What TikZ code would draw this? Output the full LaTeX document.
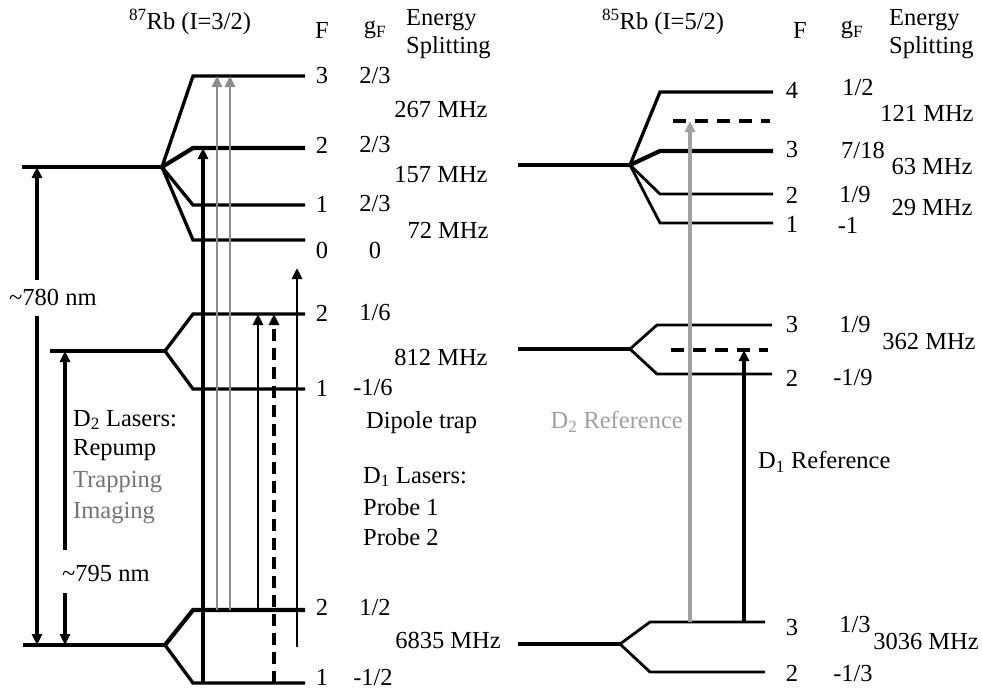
\documentclass[tikz,border=0pt]{standalone}
\usepackage{fontspec}
\setmainfont{Liberation Serif}
\usetikzlibrary{arrows.meta}
\definecolor{lasgray}{RGB}{140,140,140}
\definecolor{txtgray}{RGB}{115,115,115}
\definecolor{refgray}{RGB}{160,160,160}
\begin{document}
\begin{tikzpicture}[x=1pt,y=-1pt,
  every node/.style={font=\fontsize{24.5}{27}\selectfont, inner sep=0pt},
  lev/.style={line width=3.3pt, line join=miter},
  levthick/.style={line width=4.2pt},
  levthin/.style={line width=2.8pt},
  tip/.style={-{Triangle[length=11pt,width=10pt]}},
  blk/.style={tip, line width=3.6pt},
  blkthin/.style={tip, line width=2.8pt},
  gry/.style={tip, line width=2.8pt, draw=lasgray},
  dsh/.style={tip, line width=3.8pt, dash pattern=on 12pt off 7pt},
  refdash/.style={line width=3.6pt, dash pattern=on 13pt off 9pt},
  dbl/.style={tip, line width=3.2pt}]
\useasboundingbox (0,0) rectangle (982,691);

% ---------------- 87Rb ----------------
\node (t87) at (190,22) {\textsuperscript{87}Rb (I=3/2)};
\node (hF1) at (322,30) {F};
\node (hg1) at (375,30) {g\textsubscript{F}};
\node[anchor=west] (hE1) at (406,20) {Energy};
\node[anchor=west] (hS1) at (406,48) {Splitting};

% 5P3/2
\coordinate (pc) at (162,167);
\coordinate (pw) at (22,167);
\coordinate (e3a) at (193,76);  \coordinate (e3b) at (305,76);
\coordinate (e2a) at (193,148); \coordinate (e2b) at (305,148);
\coordinate (e1a) at (193,205); \coordinate (e1b) at (305,205);
\coordinate (e0a) at (193,240); \coordinate (e0b) at (305,240);
\draw[lev] (pw) -- (pc);
\draw[lev] (pc) -- (e3a) -- (e3b);
\draw[levthick] (pc) -- (e2a) -- (e2b);
\draw[lev] (pc) -- (e1a) -- (e1b);
\draw[lev] (pc) -- (e0a) -- (e0b);

% 5P1/2
\coordinate (qc) at (165,351);
\coordinate (qw) at (50,351);
\coordinate (d2a) at (193,314); \coordinate (d2b) at (305,314);
\coordinate (d1a) at (193,389); \coordinate (d1b) at (305,389);
\draw[lev] (qw) -- (qc);
\draw[lev] (qc) -- (d2a) -- (d2b);
\draw[lev] (qc) -- (d1a) -- (d1b);

% 5S1/2
\coordinate (sc) at (165,645);
\coordinate (sw) at (23,645);
\coordinate (g2a) at (193,610); \coordinate (g2b) at (305,610);
\coordinate (g1a) at (193,683); \coordinate (g1b) at (305,683);
\draw[lev] (sw) -- (sc);
\draw[levthick] (sc) -- (g2a) -- (g2b);
\draw[lev] (sc) -- (g1a) -- (g1b);

% F labels
\node (f3) at (322,76) {3};
\node (f2) at (322,145) {2};
\node (f1) at (322,204) {1};
\node (f0) at (322,250) {0};
\node (fd2) at (322,313) {2};
\node (fd1) at (322,388) {1};
\node (fg2) at (322,607) {2};
\node (fg1) at (322,677) {1};
% gF
\node (gf3) at (375,76) {2/3};
\node (gf2) at (375,145) {2/3};
\node (gf1) at (375,204) {2/3};
\node (gf0) at (375,250) {0};
\node (gfd2) at (375,313) {1/6};
\node (gfd1) at (373,388) {-1/6};
\node (gfg2) at (375,607) {1/2};
\node (gfg1) at (373,677) {-1/2};
% splittings
\node (s267) at (441,110) {267 MHz};
\node (s157) at (441,175) {157 MHz};
\node (s72) at (448,230) {72 MHz};
\node (s812) at (441,357) {812 MHz};
\node (s6835) at (448,640) {6835 MHz};

% wavelength arrows
\node[anchor=west] (n780) at (9,297) {\textasciitilde 780 nm};
\coordinate (x780) at (37,0);
\coordinate (b780t) at (37,280);
\coordinate (b780b) at (37,316);
\draw[dbl] (b780t) -- (x780 |- pw);
\draw[dbl] (b780b) -- (x780 |- sw);
\node[anchor=west] (n795) at (62,573) {\textasciitilde 795 nm};
\coordinate (x795) at (65,0);
\coordinate (b795t) at (65,550);
\coordinate (b795b) at (65,593);
\draw[dbl] (b795t) -- (x795 |- qw);
\draw[dbl] (b795b) -- (x795 |- sw);

\node[anchor=west] (lD2) at (73,420) {D\textsubscript{2} Lasers:};
\node[anchor=west] (lRep) at (73,450) {Repump};
\node[anchor=west, text=txtgray] (lTrap) at (73,482) {Trapping};
\node[anchor=west, text=txtgray] (lImg) at (73,513) {Imaging};

\node[anchor=west] (lDip) at (366,423) {Dipole trap};
\node[anchor=west] (lD1) at (363,477) {D\textsubscript{1} Lasers:};
\node[anchor=west] (lP1) at (363,507) {Probe 1};
\node[anchor=west] (lP2) at (363,537) {Probe 2};

% laser arrows
\coordinate (xRep) at (203,0);
\coordinate (xTrap) at (217,0);
\coordinate (xImg) at (230,0);
\coordinate (xP1) at (258,0);
\coordinate (xP2) at (274,0);
\coordinate (dipTop) at (297,268);
\coordinate (dipBot) at (297,647);
\draw[blk] (xRep |- g1a) -- (xRep |- e2a);
\draw[gry] (xTrap |- g2a) -- (xTrap |- e3a);
\draw[gry] (xImg |- g2a) -- (xImg |- e3a);
\draw[blkthin] (xP1 |- g2a) -- (xP1 |- d2a);
\draw[dsh] (xP2 |- g1a) -- (xP2 |- d2a);
\draw[blkthin] (dipBot) -- (dipTop);

% ---------------- 85Rb ----------------
\node (t85) at (663,22) {\textsuperscript{85}Rb (I=5/2)};
\node (hF2) at (800,30) {F};
\node (hg2) at (852,30) {g\textsubscript{F}};
\node[anchor=west] (hE2) at (889,20) {Energy};
\node[anchor=west] (hS2) at (889,48) {Splitting};

% 5P3/2
\coordinate (Pc) at (630,165);
\coordinate (Pw) at (518,165);
\coordinate (E4a) at (660,92);  \coordinate (E4b) at (773,92);
\coordinate (E3a) at (660,151); \coordinate (E3b) at (773,151);
\coordinate (E2a) at (660,194); \coordinate (E2b) at (773,194);
\coordinate (E1a) at (660,223); \coordinate (E1b) at (773,223);
\coordinate (R2a) at (673,121); \coordinate (R2b) at (770,121);
\draw[lev] (Pw) -- (Pc);
\draw[lev] (Pc) -- (E4a) -- (E4b);
\draw[levthick] (Pc) -- (E3a) -- (E3b);
\draw[levthin] (Pc) -- (E2a) -- (E2b);
\draw[levthin] (Pc) -- (E1a) -- (E1b);
\draw[refdash] (R2a) -- (R2b);

% 5P1/2
\coordinate (Qc) at (630,349);
\coordinate (Qw) at (518,349);
\coordinate (D3a) at (657,325); \coordinate (D3b) at (772,325);
\coordinate (D2a) at (657,374); \coordinate (D2b) at (772,374);
\coordinate (R1a) at (671,350); \coordinate (R1b) at (768,350);
\draw[lev] (Qw) -- (Qc);
\draw[levthin] (Qc) -- (D3a) -- (D3b);
\draw[levthin] (Qc) -- (D2a) -- (D2b);
\draw[refdash] (R1a) -- (R1b);

% 5S1/2
\coordinate (Sc) at (620,644);
\coordinate (Sw) at (518,644);
\coordinate (G3a) at (650,622); \coordinate (G3b) at (765,622);
\coordinate (G2a) at (650,672); \coordinate (G2b) at (765,672);
\draw[lev] (Sw) -- (Sc);
\draw[levthin] (Sc) -- (G3a) -- (G3b);
\draw[levthin] (Sc) -- (G2a) -- (G2b);

% labels
\node (F4) at (792,90) {4};
\node (F3) at (792,150) {3};
\node (F2) at (792,195) {2};
\node (F1) at (792,224) {1};
\node (FD3) at (792,325) {3};
\node (FD2) at (792,378) {2};
\node (FG3) at (792,627) {3};
\node (FG2) at (792,673) {2};
\node (GF4) at (858,88) {1/2};
\node (GF3) at (863,150) {7/18};
\node (GF2) at (855,195) {1/9};
\node (GF1) at (848,225) {-1};
\node (GFD3) at (855,325) {1/9};
\node (GFD2) at (853,378) {-1/9};
\node (GFG3) at (855,624) {1/3};
\node (GFG2) at (853,673) {-1/3};
\node (S121) at (927,113) {121 MHz};
\node (S63) at (932,167) {63 MHz};
\node (S29) at (932,208) {29 MHz};
\node (S362) at (929,342) {362 MHz};
\node (S3036) at (926,641) {3036 MHz};

% reference arrows
\coordinate (xRef2) at (690,0);
\coordinate (xRef1) at (744,0);
\draw[tip, line width=3.4pt, draw=refgray] (xRef2 |- G3a) -- (xRef2 |- R2a);
\draw[blk] (xRef1 |- G3a) -- (xRef1 |- R1a);
\node[anchor=east, text=refgray] (lR2) at (683,422) {D\textsubscript{2} Reference};
\node[anchor=west] (lR1) at (758,462) {D\textsubscript{1} Reference};
\end{tikzpicture}
\end{document}
